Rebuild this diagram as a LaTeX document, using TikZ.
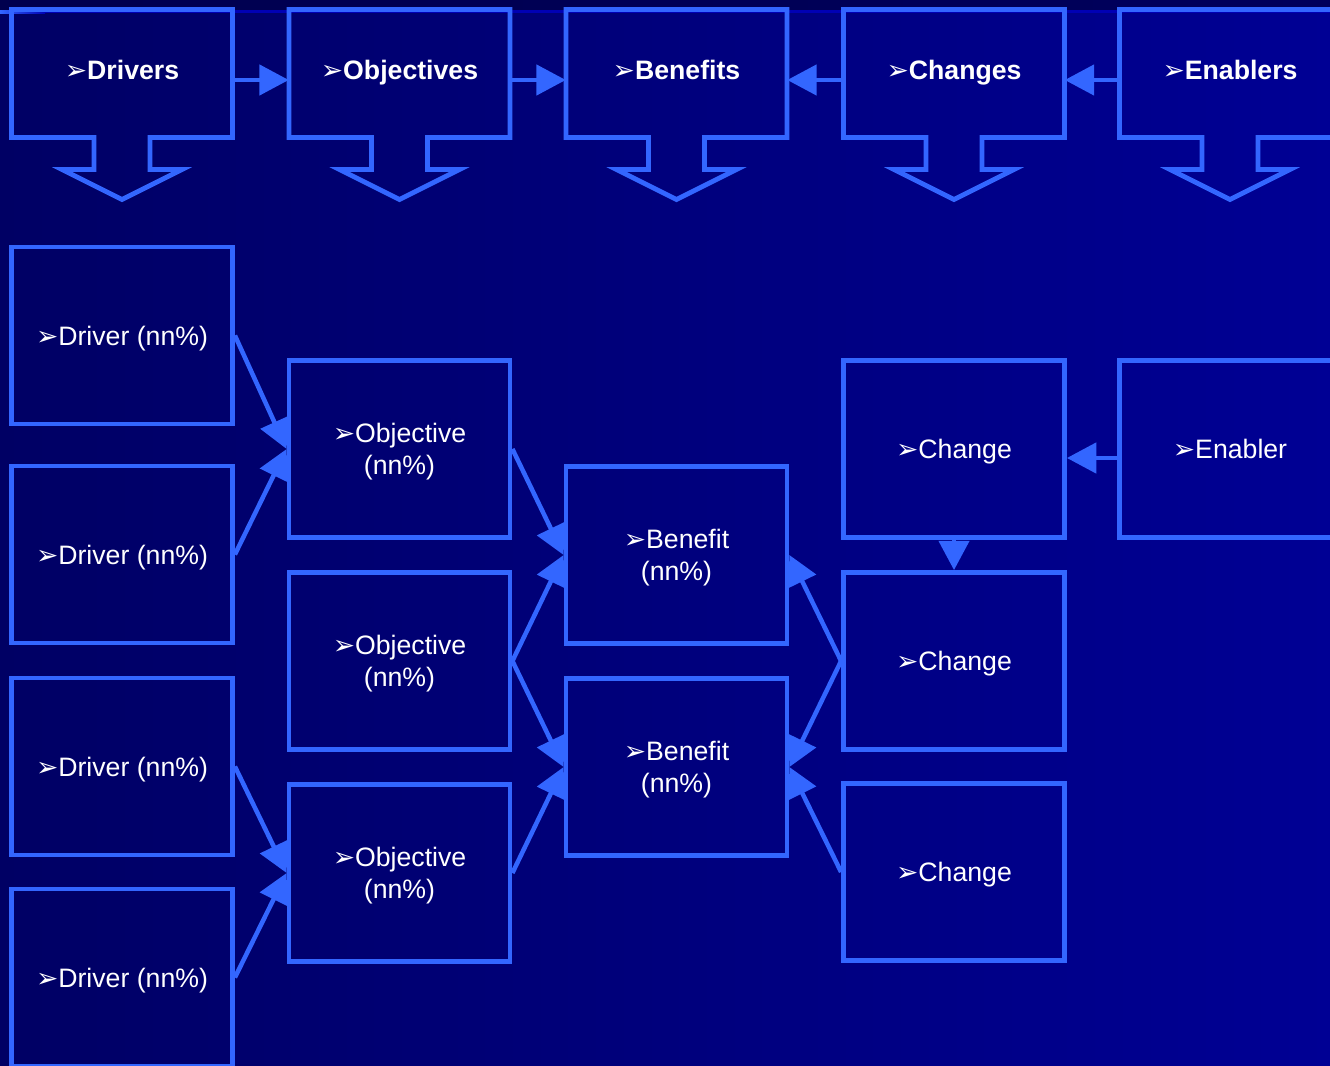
\documentclass[tikz,border=0pt]{standalone}
\usepackage{fontspec}
\setmainfont{Liberation Sans}
\newfontfamily\dejavu{DejaVu Sans}
\usetikzlibrary{arrows.meta,calc}

\definecolor{edge}{RGB}{51,102,255}
\definecolor{bgleft}{RGB}{0,0,100}
\definecolor{bgright}{RGB}{0,0,148}
\definecolor{stripleft}{RGB}{0,0,78}
\definecolor{stripright}{RGB}{0,0,92}
\definecolor{stripline}{RGB}{0,0,180}

% bullet glyph placed before every label
\newcommand\bul{{\dejavu\fontsize{20}{20}\selectfont ➢}}

\tikzset{
  box/.style={draw=edge, line width=3.6pt, minimum width=165.75pt,
    minimum height=132.75pt, inner sep=0pt, text=white, align=center,
    font=\fontsize{20}{24}\selectfont, text depth=0pt},
  headbox/.style={minimum width=165.75pt, minimum height=96pt, inner sep=0pt,
    text=white, font=\bfseries\fontsize{20}{24}\selectfont,
    text height=9.75pt, text depth=0pt},
  callout/.style={draw=edge, line width=3.6pt, line join=miter},
  link/.style={draw=edge, line width=3.4pt,
    -{Triangle[length=22pt,width=22.5pt]}},
}

\begin{document}
\begin{tikzpicture}[x=0.75pt, y=-0.75pt]
  % background
  \useasboundingbox (0,0) rectangle (1330,1066);
  \shade[left color=bgleft, right color=bgright] (0,0) rectangle (1330,1066);
  \shade[left color=stripleft, right color=stripright] (0,0) rectangle (1330,11);
  \fill[stripline] (0,10.5) rectangle (1330,13.5);
  \shade[left color=edge, right color=stripline] (0,10.5) rectangle (45,13.5);

  % header row: boxes with a downward arrow outline
  \foreach \nm/\cx/\txt in {tdrv/122/Drivers, tobj/399.5/Objectives,
      tben/676.5/Benefits, tchg/954/Changes, tenb/1230/Enablers} {
    \node[headbox] (\nm) at (\cx,73.5) {\bul\txt};
    \draw[callout] (\cx-110.5,9.5) -- (\cx+110.5,9.5) -- (\cx+110.5,137.5)
      -- (\cx+28,137.5) -- (\cx+28,169.5) -- (\cx+60,169.5) -- (\cx,199.5)
      -- (\cx-60,169.5) -- (\cx-28,169.5) -- (\cx-28,137.5)
      -- (\cx-110.5,137.5) -- cycle;
  }

  % header connectors
  \draw[link] ($(tdrv.east)+(0,6.5)$) -- ($(tobj.west)+(0,6.5)$);
  \draw[link] ($(tobj.east)+(0,6.5)$) -- ($(tben.west)+(0,6.5)$);
  \draw[link] ($(tchg.west)+(0,6.5)$) -- ($(tben.east)+(0,6.5)$);
  \draw[link] ($(tenb.west)+(0,6.5)$) -- ($(tchg.east)+(0,6.5)$);

  % drivers
  \node[box] (d1) at (122,335.5) {\bul Driver (nn\%)};
  \node[box] (d2) at (122,554.5) {\bul Driver (nn\%)};
  \node[box] (d3) at (122,766.5) {\bul Driver (nn\%)};
  \node[box] (d4) at (122,977.5) {\bul Driver (nn\%)};

  % objectives
  \node[box] (o1) at (399.5,449) {\bul Objective\\(nn\%)};
  \node[box] (o2) at (399.5,661) {\bul Objective\\(nn\%)};
  \node[box] (o3) at (399.5,873) {\bul Objective\\(nn\%)};

  % benefits
  \node[box] (b1) at (676.5,555) {\bul Benefit\\(nn\%)};
  \node[box] (b2) at (676.5,767) {\bul Benefit\\(nn\%)};

  % changes and enabler
  \node[box] (c1) at (954,449) {\bul Change};
  \node[box] (c2) at (954,661) {\bul Change};
  \node[box] (c3) at (954,872) {\bul Change};
  \node[box] (e1) at (1230,449) {\bul Enabler};

  % connectors
  \draw[link] (d1.east) -- (o1.west);
  \draw[link] (d2.east) -- (o1.west);
  \draw[link] (d3.east) -- (o3.west);
  \draw[link] (d4.east) -- (o3.west);
  \draw[link] (o1.east) -- (b1.west);
  \draw[link] (o2.east) -- (b1.west);
  \draw[link] (o2.east) -- (b2.west);
  \draw[link] (o3.east) -- (b2.west);
  \draw[link] (c2.west) -- (b1.east);
  \draw[link] (c2.west) -- (b2.east);
  \draw[link] (c3.west) -- (b2.east);
  \draw[link] (c1.south) -- (c2.north);
  \draw[link] ($(e1.west)+(0,9)$) -- ($(c1.east)+(0,9)$);
\end{tikzpicture}
\end{document}
